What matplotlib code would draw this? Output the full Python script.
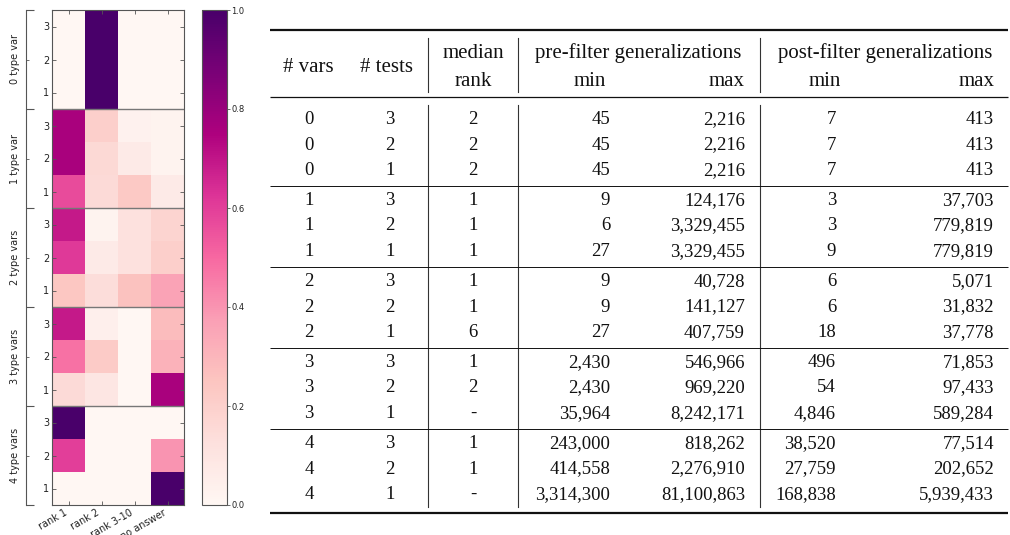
import numpy as np
import matplotlib.pyplot as plt
from matplotlib.colors import Normalize

# heatmap: rows top-to-bottom = (group, tests 3/2/1), columns = answer rank
rank_labels = ["rank 1", "rank 2", "rank 3-10", "no answer"]
group_labels = ["0 type var", "1 type var", "2 type vars", "3 type vars", "4 type vars"]
test_labels = ["3", "2", "1"]

g0 = [[0.0, 1.0, 0.0, 0.0],
      [0.0, 1.0, 0.0, 0.0],
      [0.0, 1.0, 0.0, 0.0]]
g1 = [[0.76, 0.20, 0.03, 0.02],
      [0.76, 0.16, 0.07, 0.02],
      [0.57, 0.15, 0.23, 0.07]]
g2 = [[0.69, 0.02, 0.12, 0.18],
      [0.61, 0.07, 0.12, 0.20],
      [0.24, 0.14, 0.26, 0.36]]
g3 = [[0.69, 0.04, 0.0, 0.28],
      [0.48, 0.22, 0.0, 0.31],
      [0.15, 0.09, 0.0, 0.76]]
g4 = [[1.0, 0.0, 0.0, 0.0],
      [0.60, 0.0, 0.0, 0.40],
      [0.0, 0.0, 0.0, 1.0]]

# table columns
n_vars = ["0", "0", "0", "1", "1", "1", "2", "2", "2", "3", "3", "3", "4", "4", "4"]
n_tests = ["3", "2", "1"] * 5
median_rank = ["2", "2", "2", "1", "1", "1", "1", "1", "6", "1", "2", "-", "1", "1", "-"]
pre_min = ["45", "45", "45", "9", "6", "27", "9", "9", "27",
           "2,430", "2,430", "35,964", "243,000", "414,558", "3,314,300"]
pre_max = ["2,216", "2,216", "2,216", "124,176", "3,329,455", "3,329,455",
           "40,728", "141,127", "407,759", "546,966", "969,220", "8,242,171",
           "818,262", "2,276,910", "81,100,863"]
post_min = ["7", "7", "7", "3", "3", "9", "6", "6", "18",
            "496", "54", "4,846", "38,520", "27,759", "168,838"]
post_max = ["413", "413", "413", "37,703", "779,819", "779,819",
            "5,071", "31,832", "37,778", "71,853", "97,433", "589,284",
            "77,514", "202,652", "5,939,433"]

W, H = 1010, 535
fig = plt.figure(figsize=(W / 100, H / 100), dpi=100)

def px_rect(x0, y0, x1, y1):
    return [x0 / W, 1 - y1 / H, (x1 - x0) / W, (y1 - y0) / H]

# ---------- table (drawn in pixel coords) ----------
tax = fig.add_axes([0, 0, 1, 1])
tax.set_xlim(0, W)
tax.set_ylim(H, 0)
tax.axis("off")

serif = "Liberation Serif"
fs_head = 15
fs_body = 13.5
ink = "#111111"

def t(x, y, s, ha="center", fs=fs_body):
    tax.text(x, y, s, ha=ha, va="baseline", fontsize=fs, family=serif, color=ink)

x_left, x_right = 270, 1008
tax.plot([x_left, x_right], [30, 30], color=ink, lw=1.6, solid_capstyle="butt")
tax.plot([x_left, x_right], [97, 97], color=ink, lw=0.9, solid_capstyle="butt")
tax.plot([x_left, x_right], [513, 513], color=ink, lw=1.6, solid_capstyle="butt")

t(308, 71.5, "# vars", fs=fs_head)
t(387, 71.5, "# tests", fs=fs_head)
t(473, 58, "median", fs=fs_head)
t(473, 86.5, "rank", fs=fs_head)
t(638, 58, "pre-filter generalizations", fs=fs_head)
t(590, 86.5, "min", fs=fs_head)
t(745, 86.5, "max", ha="right", fs=fs_head)
t(885, 58, "post-filter generalizations", fs=fs_head)
t(825, 86.5, "min", fs=fs_head)
t(995, 86.5, "max", ha="right", fs=fs_head)

for xv in (428, 518, 760):
    tax.plot([xv, xv], [38, 92], color="#333333", lw=0.8)
    tax.plot([xv, xv], [105, 507], color="#333333", lw=0.8)

group_start = [118, 199, 280, 361, 442]
step = 25.5
for g in range(5):
    if g > 0:
        yr = group_start[g] - 13.5
        tax.plot([x_left, x_right], [yr, yr], color=ink, lw=0.7, solid_capstyle="butt")
    for r in range(3):
        i = g * 3 + r
        yb = group_start[g] + r * step + 6
        t(309, yb, n_vars[i])
        t(390, yb, n_tests[i])
        t(473, yb, median_rank[i])
        t(610, yb, pre_min[i], ha="right")
        t(745, yb, pre_max[i], ha="right")
        t(836, yb, post_min[i], ha="right")
        t(994, yb, post_max[i], ha="right")

# ---------- heatmap ----------
data = np.array(g0 + g1 + g2 + g3 + g4)
nrows, ncols = data.shape
small = 7
edge = "#555555"

ax = fig.add_axes(px_rect(52, 10, 184, 505))
im = ax.imshow(data, cmap="RdPu", norm=Normalize(0, 1), aspect="auto",
               interpolation="nearest")
for yb in (2.5, 5.5, 8.5, 11.5):
    ax.axhline(yb, color="#777777", lw=1)
ax.set_xticks(range(ncols))
ax.set_xticklabels(rank_labels, rotation=30, ha="right", fontsize=small)
ax.set_yticks(range(nrows))
ax.set_yticklabels(test_labels * 5, fontsize=small)
ax.tick_params(direction="in", length=3, width=0.6, top=True, right=True,
               pad=2, colors=edge, labelcolor="#222222")
for sp in ax.spines.values():
    sp.set_color(edge)
    sp.set_linewidth(0.8)

# group axis on the left (spine 26 px left of the heatmap)
gax = fig.add_axes(px_rect(52, 10, 184, 505))
gax.patch.set_visible(False)
for name in ("top", "right", "bottom"):
    gax.spines[name].set_visible(False)
gax.spines["left"].set_position(("outward", 26 * 0.72))
gax.spines["left"].set_color(edge)
gax.spines["left"].set_linewidth(0.8)
gax.set_ylim(nrows - 0.5, -0.5)
gax.set_xticks([])
gax.set_yticks([b - 0.5 for b in range(0, nrows + 1, 3)])
gax.set_yticklabels([])
gax.set_yticks([g * 3 + 1 for g in range(5)], minor=True)
gax.set_yticklabels(group_labels, minor=True, rotation=90, va="center",
                    fontsize=small, color="#222222")
gax.tick_params(axis="y", which="major", direction="in", length=6, width=0.8, colors=edge)
gax.tick_params(axis="y", which="minor", direction="in", length=2, width=0.6,
                colors=edge, labelcolor="#222222", pad=4)

# colorbar
cax = fig.add_axes(px_rect(202, 10, 227, 505))
cb = fig.colorbar(im, cax=cax, ticks=[0.0, 0.2, 0.4, 0.6, 0.8, 1.0])
cb.ax.set_yticklabels(["0.0", "0.2", "0.4", "0.6", "0.8", "1.0"])
cb.ax.tick_params(labelsize=6, length=2, width=0.6, pad=1, colors=edge,
                  labelcolor="#222222")
cb.outline.set_edgecolor(edge)
cb.outline.set_linewidth(0.8)

fig.savefig("out.png", dpi=100)
